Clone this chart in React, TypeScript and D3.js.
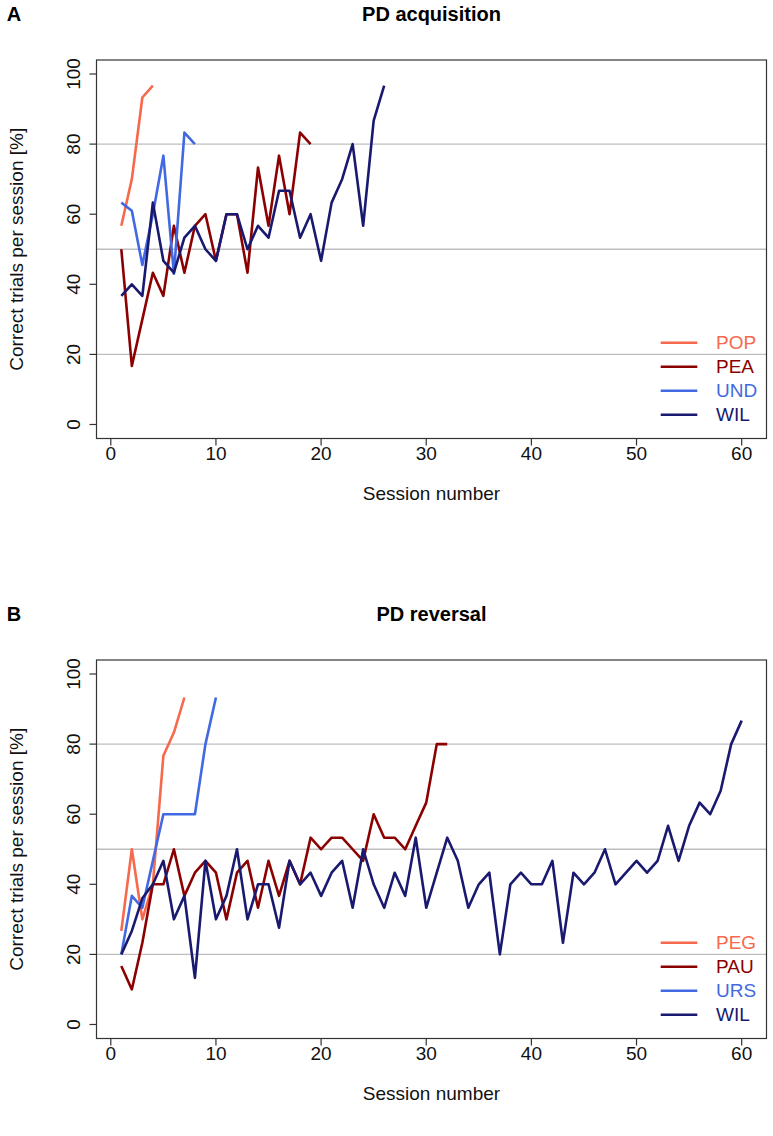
import React from "react";
import * as d3 from "d3";

// ---- Data ----
const X_TICKS = [0, 10, 20, 30, 40, 50, 60];
const Y_TICKS = [0, 20, 40, 60, 80, 100];
const GRID_Y = [20, 50, 80];

// Panel A: PD acquisition
const POP = [56.7, 70, 93.3, 96.7];
const PEA = [50, 16.7, 30, 43.3, 36.7, 56.7, 43.3, 56.7, 60, 46.7, 60, 60, 43.3, 73.3, 56.7, 76.7, 60, 83.3, 80];
const UND = [63.3, 61, 45.5, 60, 76.7, 43, 83.3, 80];
const WIL_A = [36.7, 40, 36.7, 63.3, 46.7, 43.3, 53.3, 56.7, 50, 46.7, 60, 60, 50, 56.7, 53.3, 66.7, 66.7, 53.3, 60, 46.7, 63.3, 70, 80, 56.7, 86.7, 96.7];

// Panel B: PD reversal
const PEG = [26.7, 50, 30, 40, 76.7, 83.3, 93.3];
const PAU = [16.7, 10, 23.3, 40, 40, 50, 36.7, 43.3, 46.7, 43.3, 30, 43.3, 46.7, 33.3, 46.7, 36.7, 46.7, 40, 53.3, 50, 53.3, 53.3, 50, 46.7, 60, 53.3, 53.3, 50, 56.7, 63.3, 80, 80];
const URS = [20, 36.7, 33.3, 46.7, 60, 60, 60, 60, 80, 93.3];
const WIL_B = [20, 26.7, 36, 40, 46.7, 30, 36.7, 13.3, 46.7, 30, 36.7, 50, 30, 40, 40, 27.6, 46.7, 40, 43.3, 36.7, 43.3, 46.7, 33.3, 50, 40, 33.3, 43.3, 36.7, 53.3, 33.3, 43.3, 53.3, 46.7, 33.3, 40, 43.3, 20, 40, 43.3, 40, 40, 46.7, 23.3, 43.3, 40, 43.3, 50, 40, 43.3, 46.7, 43.3, 46.7, 56.7, 46.7, 56.7, 63.3, 60, 66.7, 80, 86.7];

const C_SALMON = "#F6694C";
const C_DARKRED = "#8B0000";
const C_BLUE = "#4169E1";
const C_NAVY = "#191970";

const FONT = "Liberation Sans, Arial, Helvetica, sans-serif";

type Series = { name: string; values: number[]; color: string };

const panels = [
  {
    letter: "A",
    title: "PD acquisition",
    offset: 0,
    series: [
      { name: "POP", values: POP, color: C_SALMON },
      { name: "PEA", values: PEA, color: C_DARKRED },
      { name: "UND", values: UND, color: C_BLUE },
      { name: "WIL", values: WIL_A, color: C_NAVY },
    ] as Series[],
  },
  {
    letter: "B",
    title: "PD reversal",
    offset: 600,
    series: [
      { name: "PEG", values: PEG, color: C_SALMON },
      { name: "PAU", values: PAU, color: C_DARKRED },
      { name: "URS", values: URS, color: C_BLUE },
      { name: "WIL", values: WIL_B, color: C_NAVY },
    ] as Series[],
  },
];

const BOX_L = 96.5;
const BOX_R = 766.5;
const BOX_T = 60;
const BOX_B = 438.5;

function Panel({ p }: { p: (typeof panels)[number] }) {
  const x = d3.scaleLinear().domain([-1.36, 62.36]).range([BOX_L, BOX_R]);
  const y = d3.scaleLinear().domain([-4, 104]).range([BOX_B, BOX_T]);
  const line = d3
    .line<number>()
    .x((_, i) => x(i + 1))
    .y((d) => y(d));
  const fs = 19;
  return (
    <g transform={`translate(0,${p.offset})`} fontFamily={FONT}>
      <text x={14} y={14} fontSize={20} fontWeight="bold" textAnchor="middle" dominantBaseline="central">
        {p.letter}
      </text>
      <text x={(BOX_L + BOX_R) / 2} y={14} fontSize={20} fontWeight="bold" textAnchor="middle" dominantBaseline="central">
        {p.title}
      </text>
      {GRID_Y.map((g) => (
        <line key={g} x1={BOX_L} x2={BOX_R} y1={y(g)} y2={y(g)} stroke="#BEBEBE" strokeWidth={1.3} />
      ))}
      {p.series.map((s) => (
        <path key={s.name} d={line(s.values) || ""} fill="none" stroke={s.color} strokeWidth={2.6} strokeLinejoin="round" />
      ))}
      <rect x={BOX_L} y={BOX_T} width={BOX_R - BOX_L} height={BOX_B - BOX_T} fill="none" stroke="#333" strokeWidth={1.2} />
      {/* x axis */}
      {X_TICKS.map((t) => (
        <g key={t}>
          <line x1={x(t)} x2={x(t)} y1={BOX_B} y2={BOX_B + 7} stroke="#333" strokeWidth={1.2} />
          <text x={x(t)} y={BOX_B + 15} fontSize={fs} textAnchor="middle" dominantBaseline="central" fill="#111">
            {t}
          </text>
        </g>
      ))}
      {/* y axis */}
      {Y_TICKS.map((t) => (
        <g key={t}>
          <line x1={BOX_L - 7} x2={BOX_L} y1={y(t)} y2={y(t)} stroke="#333" strokeWidth={1.2} />
          <text
            transform={`translate(${BOX_L - 23},${y(t)}) rotate(-90)`}
            fontSize={fs}
            textAnchor="middle"
            dominantBaseline="central"
            fill="#111"
          >
            {t}
          </text>
        </g>
      ))}
      <text x={(BOX_L + BOX_R) / 2} y={493} fontSize={fs} textAnchor="middle" dominantBaseline="central" fill="#111">
        Session number
      </text>
      <text
        transform={`translate(16,${(BOX_T + BOX_B) / 2}) rotate(-90)`}
        fontSize={fs}
        textAnchor="middle"
        dominantBaseline="central"
        fill="#111"
      >
        Correct trials per session [%]
      </text>
      {/* legend */}
      {p.series.map((s, i) => (
        <g key={s.name} transform={`translate(0,${342.7 + i * 24})`}>
          <line x1={660.7} x2={697.3} y1={0} y2={0} stroke={s.color} strokeWidth={2.6} />
          <text x={716} y={0} fontSize={fs} dominantBaseline="central" fill={s.color}>
            {s.name}
          </text>
        </g>
      ))}
    </g>
  );
}

export default function App() {
  return (
    <svg
      width={773}
      height={1136}
      viewBox="0 0 773 1136"
      style={{ position: "absolute", left: 0, top: 0, background: "#fff" }}
    >
      <rect width={773} height={1136} fill="#fff" />
      {panels.map((p) => (
        <Panel key={p.letter} p={p} />
      ))}
    </svg>
  );
}
